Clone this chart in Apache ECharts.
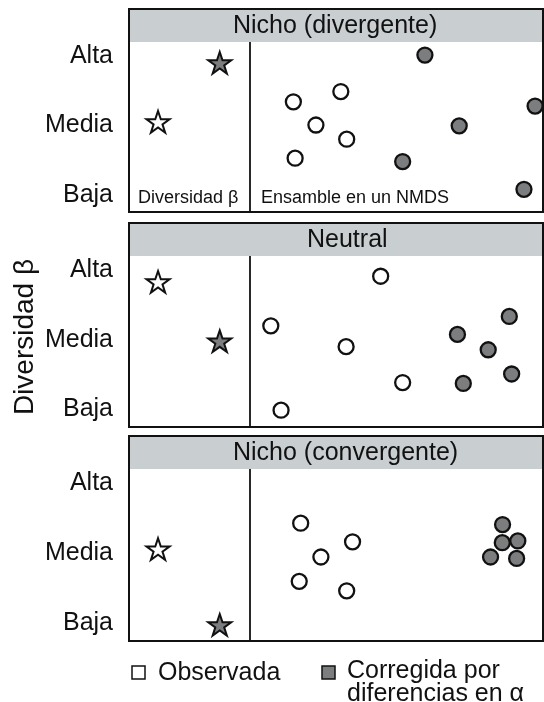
<!DOCTYPE html>
<html>
<head>
<meta charset="utf-8">
<script src="https://cdn.jsdelivr.net/npm/echarts@6/dist/echarts.min.js"></script>
<style>html,body{margin:0;padding:0;background:#fff;}#c{width:544px;height:702px;}</style>
</head>
<body>
<div id="c"></div>
<script>
// ---- data ----
const tickValues = [1, 2, 3];
const tickLabels = ['Baja', 'Media', 'Alta'];
const panelTitles = ['Nicho (divergente)', 'Neutral', 'Nicho (convergente)'];
const seriesNames = ['Observada', 'Corregida por diferencias en α'];

// beta diversity (stars): [x position, beta level]
const starObs1 = [[0.24, 2.05]];
const starCor1 = [[0.75, 2.90]];
const starObs2 = [[0.24, 2.83]];
const starCor2 = [[0.75, 1.98]];
const starObs3 = [[0.24, 2.06]];
const starCor3 = [[0.75, 0.98]];

// NMDS ensembles (circles): [NMDS1, NMDS2]
const nmdsObs1 = [[1.48, 3.89], [3.10, 4.25], [2.25, 3.07], [3.30, 2.57], [1.54, 1.90]];
const nmdsCor1 = [[5.97, 5.54], [9.73, 3.74], [7.14, 3.04], [5.21, 1.78], [9.35, 0.80]];
const nmdsObs2 = [[4.46, 5.29], [0.71, 3.55], [3.28, 2.82], [5.21, 1.56], [1.06, 0.59]];
const nmdsCor2 = [[8.85, 3.88], [7.08, 3.25], [8.13, 2.71], [8.93, 1.86], [7.28, 1.53]];
const nmdsObs3 = [[1.73, 4.11], [3.50, 3.46], [2.42, 2.93], [1.68, 2.08], [3.30, 1.75]];
const nmdsCor3 = [[8.62, 4.06], [8.61, 3.43], [9.14, 3.49], [8.21, 2.93], [9.10, 2.88]];

// ---- layout / style ----
const FONT = '"Liberation Sans", Arial, Helvetica, sans-serif';
const INK = '#111111';
const GRAY = '#7b7d7f';
const HEADER = '#c9ced1';
const boxLeft = 129, boxRight = 543, divX = 250;
const boxTops = [9, 223, 436];
const gridTops = [42, 256, 469];
const gridHeights = [170, 171, 172];
const titleX = [233, 307, 233];
const STAR = 'path://M50,0 L61.8,35.1 L98.9,35.1 L68.9,56.8 L80.3,91.9 L50,70.2 L19.7,91.9 L31.1,56.8 L1.1,35.1 L38.2,35.1 Z';

const stars = [[starObs1, starCor1], [starObs2, starCor2], [starObs3, starCor3]];
const nmds = [[nmdsObs1, nmdsCor1], [nmdsObs2, nmdsCor2], [nmdsObs3, nmdsCor3]];

const grid = [], xAxis = [], yAxis = [], series = [], graphic = [];

for (let p = 0; p < 3; p++) {
  grid.push({left: boxLeft, width: divX - boxLeft, top: gridTops[p], height: gridHeights[p]});
  grid.push({left: divX, width: boxRight - divX, top: gridTops[p], height: gridHeights[p]});
  const gl = 2 * p, gr = 2 * p + 1;
  xAxis.push({gridIndex: gl, type: 'value', min: 0, max: 1, show: false});
  xAxis.push({gridIndex: gr, type: 'value', min: 0, max: 10, show: false});
  yAxis.push({
    gridIndex: gl, type: 'value', min: 0.75, max: 3.2,
    axisLine: {show: false}, axisTick: {show: false}, splitLine: {show: false},
    axisLabel: {
      customValues: tickValues,
      formatter: v => tickLabels[tickValues.indexOf(Math.round(v))] || '',
      fontSize: 25, color: '#111', fontFamily: FONT, margin: 16
    }
  });
  yAxis.push({gridIndex: gr, type: 'value', min: 0, max: 6, show: false});

  series.push({
    name: seriesNames[0], type: 'scatter', xAxisIndex: gl, yAxisIndex: gl,
    data: stars[p][0], symbol: STAR, symbolSize: 23, symbolKeepAspect: true,
    itemStyle: {color: '#fff', borderColor: INK, borderWidth: 2, opacity: 1}, z: 5
  });
  series.push({
    name: seriesNames[1], type: 'scatter', xAxisIndex: gl, yAxisIndex: gl,
    data: stars[p][1], symbol: STAR, symbolSize: 23, symbolKeepAspect: true,
    itemStyle: {color: GRAY, borderColor: INK, borderWidth: 2, opacity: 1}, z: 5
  });
  series.push({
    name: seriesNames[0], type: 'scatter', xAxisIndex: gr, yAxisIndex: gr,
    data: nmds[p][0], symbol: 'circle', symbolSize: 15,
    itemStyle: {color: '#fff', borderColor: INK, borderWidth: 2.3, opacity: 1}, z: 5
  });
  series.push({
    name: seriesNames[1], type: 'scatter', xAxisIndex: gr, yAxisIndex: gr,
    data: nmds[p][1], symbol: 'circle', symbolSize: 15,
    itemStyle: {color: GRAY, borderColor: INK, borderWidth: 2.3, opacity: 1}, z: 5
  });

  const bottom = gridTops[p] + gridHeights[p];
  graphic.push({type: 'rect', shape: {x: boxLeft, y: boxTops[p], width: boxRight - boxLeft, height: gridTops[p] - boxTops[p]},
    style: {fill: HEADER}, z: 1});
  graphic.push({type: 'rect', shape: {x: boxLeft, y: boxTops[p], width: boxRight - boxLeft, height: bottom - boxTops[p]},
    style: {fill: 'none', stroke: INK, lineWidth: 2}, z: 3});
  graphic.push({type: 'line', shape: {x1: divX, y1: gridTops[p], x2: divX, y2: bottom},
    style: {stroke: INK, lineWidth: 1.8}, z: 3});
  graphic.push({type: 'text', x: titleX[p], y: (boxTops[p] + gridTops[p]) / 2 + 1,
    style: {text: panelTitles[p], font: '25px ' + FONT, fill: '#111', textAlign: 'left', textVerticalAlign: 'middle'}, z: 4});
}

graphic.push({type: 'text', x: 138, y: 198,
  style: {text: 'Diversidad β', font: '18px ' + FONT, fill: '#111', textAlign: 'left', textVerticalAlign: 'middle'}, z: 4});
graphic.push({type: 'text', x: 261, y: 198,
  style: {text: 'Ensamble en un NMDS', font: '18px ' + FONT, fill: '#111', textAlign: 'left', textVerticalAlign: 'middle'}, z: 4});

graphic.push({type: 'text', x: 25, y: 337, rotation: Math.PI / 2,
  style: {text: 'Diversidad β', font: '28px ' + FONT, fill: '#111', textAlign: 'center', textVerticalAlign: 'middle'}, z: 4});

graphic.push({type: 'rect', shape: {x: 132, y: 666, width: 13, height: 13}, style: {fill: '#fff', stroke: INK, lineWidth: 1.5}});
graphic.push({type: 'text', x: 158, y: 673,
  style: {text: seriesNames[0], font: '25px ' + FONT, fill: '#111', textAlign: 'left', textVerticalAlign: 'middle'}});
graphic.push({type: 'rect', shape: {x: 322, y: 666, width: 13, height: 13}, style: {fill: GRAY, stroke: INK, lineWidth: 1.5}});
graphic.push({type: 'text', x: 347, y: 671,
  style: {text: 'Corregida por', font: '25px ' + FONT, fill: '#111', textAlign: 'left', textVerticalAlign: 'middle'}});
graphic.push({type: 'text', x: 347, y: 694,
  style: {text: 'diferencias en α', font: '25px ' + FONT, fill: '#111', textAlign: 'left', textVerticalAlign: 'middle'}});

const chart = echarts.init(document.getElementById('c'), null, {renderer: 'canvas'});
chart.setOption({
  animation: false,
  backgroundColor: '#fff',
  grid, xAxis, yAxis, series, graphic
});
</script>
</body>
</html>
